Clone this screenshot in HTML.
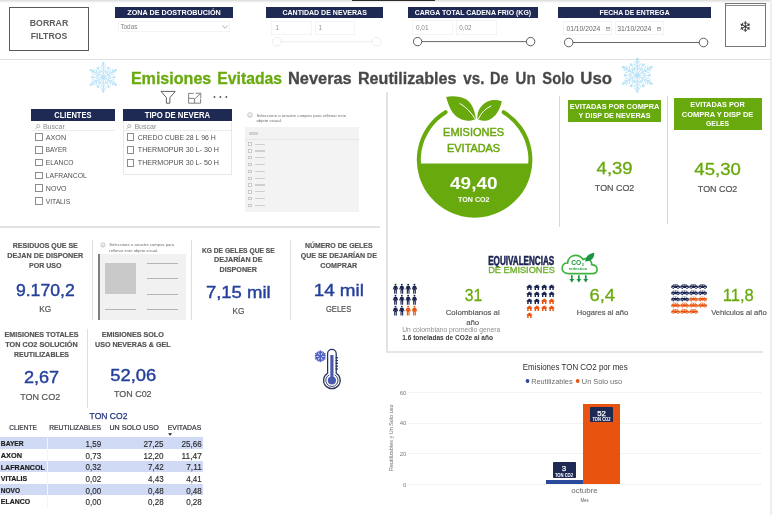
<!DOCTYPE html>
<html lang="es"><head><meta charset="utf-8"><title>Emisiones Evitadas</title>
<style>
html,body{margin:0;padding:0;background:#fff;}
body{width:772px;height:515px;position:relative;overflow:hidden;font-family:"Liberation Sans",sans-serif;}
#p{position:absolute;left:0;top:0;width:772px;height:515px;overflow:hidden;background:#fff;}
#p div{position:absolute;box-sizing:border-box;}
#p svg{position:absolute;overflow:visible;}
#tx text{font-family:"Liberation Sans",sans-serif;white-space:pre;}
</style></head><body><div id="p">
<div style="left:0.00px;top:0.00px;width:772.00px;height:1.00px;background:#e0e0e0;"></div>
<div style="left:0.00px;top:1.00px;width:772.00px;height:1.00px;background:#ededed;"></div>
<div style="left:0.00px;top:2.00px;width:772.00px;height:1.00px;background:#f8f8f8;"></div>
<div style="left:351.80px;top:0.00px;width:83.40px;height:1.10px;background:#2b2b2b;"></div>
<div style="left:769.80px;top:0.00px;width:2.20px;height:515.00px;background:#eeeeee;"></div>
<div style="left:0.00px;top:58.50px;width:769.50px;height:1.50px;background:#e0e0e0;"></div>
<div style="left:9.10px;top:6.50px;width:79.80px;height:44.50px;background:#fff;border:1.2px solid #5a5a5a;"></div>
<div style="left:114.70px;top:6.50px;width:118.70px;height:11.90px;background:#1f2a54;"></div>
<div style="left:266.40px;top:6.50px;width:116.50px;height:11.90px;background:#1f2a54;"></div>
<div style="left:407.90px;top:6.50px;width:130.10px;height:11.90px;background:#1f2a54;"></div>
<div style="left:558.40px;top:6.50px;width:152.40px;height:11.90px;background:#1f2a54;"></div>
<div style="left:118.40px;top:20.50px;width:111.20px;height:11.60px;background:#fff;border:1px solid #f4f4f4;"></div>
<svg style="left:221.6px;top:24.8px" width="6" height="4" viewBox="0 0 6 4"><path d="M0.4 0.5 L3 3.3 L5.6 0.5" fill="none" stroke="#8e8e8e" stroke-width="0.7"/></svg>
<div style="left:271.00px;top:20.50px;width:40.80px;height:14.00px;background:#fff;border:1px solid #f4f4f4;"></div>
<div style="left:314.70px;top:20.50px;width:40.80px;height:14.00px;background:#fff;border:1px solid #f4f4f4;"></div>
<svg style="left:268px;top:35px" width="116" height="14" viewBox="268 35 116 14"><line x1="281" y1="41.75" x2="372" y2="41.75" stroke="#ebebeb" stroke-width="1"/><circle cx="276.8" cy="41.75" r="4.3" fill="#fff" stroke="#eaeaea" stroke-width="0.9"/><circle cx="376.5" cy="41.75" r="4.3" fill="#fff" stroke="#eaeaea" stroke-width="0.9"/></svg>
<div style="left:412.20px;top:20.40px;width:41.30px;height:14.20px;background:#fff;border:1px solid #f4f4f4;"></div>
<div style="left:455.80px;top:20.40px;width:41.00px;height:14.20px;background:#fff;border:1px solid #f4f4f4;"></div>
<svg style="left:408px;top:35px" width="130" height="14" viewBox="408 35 130 14"><line x1="421" y1="41.6" x2="527" y2="41.6" stroke="#555" stroke-width="0.9"/><circle cx="417.6" cy="41.6" r="4.2" fill="#fff" stroke="#4a4a4a" stroke-width="0.9"/><circle cx="530.6" cy="41.6" r="4.2" fill="#fff" stroke="#4a4a4a" stroke-width="0.9"/></svg>
<div style="left:563.20px;top:21.00px;width:49.20px;height:14.20px;background:#fff;border:1px solid #f4f4f4;"></div>
<div style="left:614.50px;top:21.00px;width:49.00px;height:14.20px;background:#fff;border:1px solid #f4f4f4;"></div>
<svg style="left:606.3px;top:26.6px" width="4.2" height="4" viewBox="0 0 4.2 4"><rect x="0.4" y="0.6" width="3.4" height="3" fill="none" stroke="#9a9a9a" stroke-width="0.6"/><rect x="0.4" y="0.6" width="3.4" height="1" fill="#9a9a9a"/></svg>
<svg style="left:657.4px;top:26.6px" width="4.2" height="4" viewBox="0 0 4.2 4"><rect x="0.4" y="0.6" width="3.4" height="3" fill="none" stroke="#9a9a9a" stroke-width="0.6"/><rect x="0.4" y="0.6" width="3.4" height="1" fill="#9a9a9a"/></svg>
<svg style="left:560px;top:36px" width="150" height="14" viewBox="560 36 150 14"><line x1="572" y1="42.5" x2="700" y2="42.5" stroke="#555" stroke-width="0.9"/><circle cx="568.7" cy="42.5" r="4.3" fill="#fff" stroke="#4a4a4a" stroke-width="0.9"/><circle cx="703.5" cy="42.5" r="4.3" fill="#fff" stroke="#4a4a4a" stroke-width="0.9"/></svg>
<div style="left:725.00px;top:2.90px;width:40.90px;height:44.00px;background:#fff;border:0.9px solid #777;"></div>
<div style="left:725.50px;top:5.30px;width:40.00px;height:0.80px;background:#8a8a8a;"></div>
<svg style="left:87.90px;top:61.60px;opacity:0.6" width="30.60" height="30.60" viewBox="-15.3 -15.3 30.6 30.6"><g fill="none" stroke="#8fd1f1" stroke-width="0.95" stroke-linecap="round"><g transform="rotate(0)"><line x1="0" y1="0" x2="0" y2="-13.77"/><path d="M0 -4.59 L-2.45 -6.73 M0 -4.59 L2.45 -6.73 M0 -7.34 L-3.06 -10.10 M0 -7.34 L3.06 -10.10 M0 -10.10 L-2.29 -12.24 M0 -10.10 L2.29 -12.24"/><ellipse cx="0" cy="-13.77" rx="1.15" ry="1.99" fill="#8fd1f1" stroke="none"/></g><g transform="rotate(30)"><line x1="0" y1="0" x2="0" y2="-9.49" stroke-width="0.76"/><path d="M0 -5.51 L-1.53 -7.04 M0 -5.51 L1.53 -7.04" stroke-width="0.66"/><circle cx="0" cy="-10.71" r="1.30" fill="#8fd1f1" stroke="none"/></g><g transform="rotate(60)"><line x1="0" y1="0" x2="0" y2="-13.77"/><path d="M0 -4.59 L-2.45 -6.73 M0 -4.59 L2.45 -6.73 M0 -7.34 L-3.06 -10.10 M0 -7.34 L3.06 -10.10 M0 -10.10 L-2.29 -12.24 M0 -10.10 L2.29 -12.24"/><ellipse cx="0" cy="-13.77" rx="1.15" ry="1.99" fill="#8fd1f1" stroke="none"/></g><g transform="rotate(90)"><line x1="0" y1="0" x2="0" y2="-9.49" stroke-width="0.76"/><path d="M0 -5.51 L-1.53 -7.04 M0 -5.51 L1.53 -7.04" stroke-width="0.66"/><circle cx="0" cy="-10.71" r="1.30" fill="#8fd1f1" stroke="none"/></g><g transform="rotate(120)"><line x1="0" y1="0" x2="0" y2="-13.77"/><path d="M0 -4.59 L-2.45 -6.73 M0 -4.59 L2.45 -6.73 M0 -7.34 L-3.06 -10.10 M0 -7.34 L3.06 -10.10 M0 -10.10 L-2.29 -12.24 M0 -10.10 L2.29 -12.24"/><ellipse cx="0" cy="-13.77" rx="1.15" ry="1.99" fill="#8fd1f1" stroke="none"/></g><g transform="rotate(150)"><line x1="0" y1="0" x2="0" y2="-9.49" stroke-width="0.76"/><path d="M0 -5.51 L-1.53 -7.04 M0 -5.51 L1.53 -7.04" stroke-width="0.66"/><circle cx="0" cy="-10.71" r="1.30" fill="#8fd1f1" stroke="none"/></g><g transform="rotate(180)"><line x1="0" y1="0" x2="0" y2="-13.77"/><path d="M0 -4.59 L-2.45 -6.73 M0 -4.59 L2.45 -6.73 M0 -7.34 L-3.06 -10.10 M0 -7.34 L3.06 -10.10 M0 -10.10 L-2.29 -12.24 M0 -10.10 L2.29 -12.24"/><ellipse cx="0" cy="-13.77" rx="1.15" ry="1.99" fill="#8fd1f1" stroke="none"/></g><g transform="rotate(210)"><line x1="0" y1="0" x2="0" y2="-9.49" stroke-width="0.76"/><path d="M0 -5.51 L-1.53 -7.04 M0 -5.51 L1.53 -7.04" stroke-width="0.66"/><circle cx="0" cy="-10.71" r="1.30" fill="#8fd1f1" stroke="none"/></g><g transform="rotate(240)"><line x1="0" y1="0" x2="0" y2="-13.77"/><path d="M0 -4.59 L-2.45 -6.73 M0 -4.59 L2.45 -6.73 M0 -7.34 L-3.06 -10.10 M0 -7.34 L3.06 -10.10 M0 -10.10 L-2.29 -12.24 M0 -10.10 L2.29 -12.24"/><ellipse cx="0" cy="-13.77" rx="1.15" ry="1.99" fill="#8fd1f1" stroke="none"/></g><g transform="rotate(270)"><line x1="0" y1="0" x2="0" y2="-9.49" stroke-width="0.76"/><path d="M0 -5.51 L-1.53 -7.04 M0 -5.51 L1.53 -7.04" stroke-width="0.66"/><circle cx="0" cy="-10.71" r="1.30" fill="#8fd1f1" stroke="none"/></g><g transform="rotate(300)"><line x1="0" y1="0" x2="0" y2="-13.77"/><path d="M0 -4.59 L-2.45 -6.73 M0 -4.59 L2.45 -6.73 M0 -7.34 L-3.06 -10.10 M0 -7.34 L3.06 -10.10 M0 -10.10 L-2.29 -12.24 M0 -10.10 L2.29 -12.24"/><ellipse cx="0" cy="-13.77" rx="1.15" ry="1.99" fill="#8fd1f1" stroke="none"/></g><g transform="rotate(330)"><line x1="0" y1="0" x2="0" y2="-9.49" stroke-width="0.76"/><path d="M0 -5.51 L-1.53 -7.04 M0 -5.51 L1.53 -7.04" stroke-width="0.66"/><circle cx="0" cy="-10.71" r="1.30" fill="#8fd1f1" stroke="none"/></g></g><circle cx="0" cy="0" r="1.84" fill="#8fd1f1"/></svg>
<svg style="left:620.10px;top:58.00px;opacity:0.6" width="34.60" height="34.60" viewBox="-17.3 -17.3 34.6 34.6"><g fill="none" stroke="#8fd1f1" stroke-width="1.05" stroke-linecap="round"><g transform="rotate(0)"><line x1="0" y1="0" x2="0" y2="-15.57"/><path d="M0 -5.19 L-2.77 -7.61 M0 -5.19 L2.77 -7.61 M0 -8.30 L-3.46 -11.42 M0 -8.30 L3.46 -11.42 M0 -11.42 L-2.60 -13.84 M0 -11.42 L2.60 -13.84"/><ellipse cx="0" cy="-15.57" rx="1.30" ry="2.25" fill="#8fd1f1" stroke="none"/></g><g transform="rotate(30)"><line x1="0" y1="0" x2="0" y2="-10.73" stroke-width="0.84"/><path d="M0 -6.23 L-1.73 -7.96 M0 -6.23 L1.73 -7.96" stroke-width="0.73"/><circle cx="0" cy="-12.11" r="1.47" fill="#8fd1f1" stroke="none"/></g><g transform="rotate(60)"><line x1="0" y1="0" x2="0" y2="-15.57"/><path d="M0 -5.19 L-2.77 -7.61 M0 -5.19 L2.77 -7.61 M0 -8.30 L-3.46 -11.42 M0 -8.30 L3.46 -11.42 M0 -11.42 L-2.60 -13.84 M0 -11.42 L2.60 -13.84"/><ellipse cx="0" cy="-15.57" rx="1.30" ry="2.25" fill="#8fd1f1" stroke="none"/></g><g transform="rotate(90)"><line x1="0" y1="0" x2="0" y2="-10.73" stroke-width="0.84"/><path d="M0 -6.23 L-1.73 -7.96 M0 -6.23 L1.73 -7.96" stroke-width="0.73"/><circle cx="0" cy="-12.11" r="1.47" fill="#8fd1f1" stroke="none"/></g><g transform="rotate(120)"><line x1="0" y1="0" x2="0" y2="-15.57"/><path d="M0 -5.19 L-2.77 -7.61 M0 -5.19 L2.77 -7.61 M0 -8.30 L-3.46 -11.42 M0 -8.30 L3.46 -11.42 M0 -11.42 L-2.60 -13.84 M0 -11.42 L2.60 -13.84"/><ellipse cx="0" cy="-15.57" rx="1.30" ry="2.25" fill="#8fd1f1" stroke="none"/></g><g transform="rotate(150)"><line x1="0" y1="0" x2="0" y2="-10.73" stroke-width="0.84"/><path d="M0 -6.23 L-1.73 -7.96 M0 -6.23 L1.73 -7.96" stroke-width="0.73"/><circle cx="0" cy="-12.11" r="1.47" fill="#8fd1f1" stroke="none"/></g><g transform="rotate(180)"><line x1="0" y1="0" x2="0" y2="-15.57"/><path d="M0 -5.19 L-2.77 -7.61 M0 -5.19 L2.77 -7.61 M0 -8.30 L-3.46 -11.42 M0 -8.30 L3.46 -11.42 M0 -11.42 L-2.60 -13.84 M0 -11.42 L2.60 -13.84"/><ellipse cx="0" cy="-15.57" rx="1.30" ry="2.25" fill="#8fd1f1" stroke="none"/></g><g transform="rotate(210)"><line x1="0" y1="0" x2="0" y2="-10.73" stroke-width="0.84"/><path d="M0 -6.23 L-1.73 -7.96 M0 -6.23 L1.73 -7.96" stroke-width="0.73"/><circle cx="0" cy="-12.11" r="1.47" fill="#8fd1f1" stroke="none"/></g><g transform="rotate(240)"><line x1="0" y1="0" x2="0" y2="-15.57"/><path d="M0 -5.19 L-2.77 -7.61 M0 -5.19 L2.77 -7.61 M0 -8.30 L-3.46 -11.42 M0 -8.30 L3.46 -11.42 M0 -11.42 L-2.60 -13.84 M0 -11.42 L2.60 -13.84"/><ellipse cx="0" cy="-15.57" rx="1.30" ry="2.25" fill="#8fd1f1" stroke="none"/></g><g transform="rotate(270)"><line x1="0" y1="0" x2="0" y2="-10.73" stroke-width="0.84"/><path d="M0 -6.23 L-1.73 -7.96 M0 -6.23 L1.73 -7.96" stroke-width="0.73"/><circle cx="0" cy="-12.11" r="1.47" fill="#8fd1f1" stroke="none"/></g><g transform="rotate(300)"><line x1="0" y1="0" x2="0" y2="-15.57"/><path d="M0 -5.19 L-2.77 -7.61 M0 -5.19 L2.77 -7.61 M0 -8.30 L-3.46 -11.42 M0 -8.30 L3.46 -11.42 M0 -11.42 L-2.60 -13.84 M0 -11.42 L2.60 -13.84"/><ellipse cx="0" cy="-15.57" rx="1.30" ry="2.25" fill="#8fd1f1" stroke="none"/></g><g transform="rotate(330)"><line x1="0" y1="0" x2="0" y2="-10.73" stroke-width="0.84"/><path d="M0 -6.23 L-1.73 -7.96 M0 -6.23 L1.73 -7.96" stroke-width="0.73"/><circle cx="0" cy="-12.11" r="1.47" fill="#8fd1f1" stroke="none"/></g></g><circle cx="0" cy="0" r="2.08" fill="#8fd1f1"/></svg>
<svg style="left:158px;top:88px" width="74" height="18" viewBox="158 88 74 18" fill="none" stroke="#5a5a5a" stroke-width="0.95"><path d="M161 91.4 H175.2 L169.9 97.6 V103.2 H166.4 V97.6 Z" stroke-linejoin="round"/><path d="M193.5 93.4 H188.6 V103.2 H200.6 V98.6 M188.6 98.4 H194.4 V103.2 M195.6 93.2 H200.8 V98 M200.6 93.4 L195.2 98.6" stroke="#7a7a7a"/><g fill="#5a5a5a" stroke="none"><circle cx="214.5" cy="97" r="0.95"/><circle cx="220.4" cy="97" r="0.95"/><circle cx="226.3" cy="97" r="0.95"/></g></svg>
<div style="left:30.60px;top:108.90px;width:84.20px;height:12.40px;background:#1f2a54;"></div>
<svg style="left:34.8px;top:123.8px" width="5.4" height="5.6" viewBox="0 0 5.4 5.6"><circle cx="3.3" cy="2.1" r="1.6" fill="none" stroke="#8c8c8c" stroke-width="0.6"/><line x1="2.2" y1="3.3" x2="0.4" y2="5.2" stroke="#8c8c8c" stroke-width="0.6"/></svg>
<div style="left:31.00px;top:129.60px;width:83.50px;height:0.80px;background:#ececec;"></div>
<div style="left:35.20px;top:133.05px;width:7.70px;height:7.70px;background:#fff;border:0.8px solid #8c8c8c;"></div>
<div style="left:35.20px;top:145.91px;width:7.70px;height:7.70px;background:#fff;border:0.8px solid #8c8c8c;"></div>
<div style="left:35.20px;top:158.77px;width:7.70px;height:7.70px;background:#fff;border:0.8px solid #8c8c8c;"></div>
<div style="left:35.20px;top:171.63px;width:7.70px;height:7.70px;background:#fff;border:0.8px solid #8c8c8c;"></div>
<div style="left:35.20px;top:184.49px;width:7.70px;height:7.70px;background:#fff;border:0.8px solid #8c8c8c;"></div>
<div style="left:35.20px;top:197.35px;width:7.70px;height:7.70px;background:#fff;border:0.8px solid #8c8c8c;"></div>
<div style="left:122.80px;top:108.90px;width:109.20px;height:66.60px;background:#fff;border:1px solid #e8e8e8;"></div>
<div style="left:122.80px;top:108.90px;width:109.20px;height:12.40px;background:#1f2a54;"></div>
<svg style="left:126.1px;top:123.8px" width="5.4" height="5.6" viewBox="0 0 5.4 5.6"><circle cx="3.3" cy="2.1" r="1.6" fill="none" stroke="#8c8c8c" stroke-width="0.6"/><line x1="2.2" y1="3.3" x2="0.4" y2="5.2" stroke="#8c8c8c" stroke-width="0.6"/></svg>
<div style="left:124.00px;top:129.60px;width:107.00px;height:0.80px;background:#ececec;"></div>
<div style="left:126.60px;top:132.95px;width:7.90px;height:7.90px;background:#fff;border:0.8px solid #8c8c8c;"></div>
<div style="left:126.60px;top:145.81px;width:7.90px;height:7.90px;background:#fff;border:0.8px solid #8c8c8c;"></div>
<div style="left:126.60px;top:158.67px;width:7.90px;height:7.90px;background:#fff;border:0.8px solid #8c8c8c;"></div>
<svg style="left:247px;top:112px" width="6" height="6" viewBox="0 0 6 6"><circle cx="3" cy="3" r="2.3" fill="none" stroke="#8a8a8a" stroke-width="0.5"/><line x1="3" y1="2.6" x2="3" y2="4.4" stroke="#8a8a8a" stroke-width="0.5"/></svg>
<div style="left:245.00px;top:126.70px;width:113.70px;height:85.70px;background:#f3f3f3;"></div>
<div style="left:248.50px;top:132.20px;width:9.50px;height:3.20px;background:#d2d2d2;"></div>
<div style="left:245.00px;top:138.80px;width:113.70px;height:0.60px;background:#e6e6e6;"></div>
<div style="left:248.30px;top:142.40px;width:3.40px;height:3.40px;background:#fafafa;border:0.5px solid #c8c8c8;"></div>
<div style="left:255.00px;top:143.50px;width:9.50px;height:1.20px;background:#cfcfcf;"></div>
<div style="left:248.30px;top:149.23px;width:3.40px;height:3.40px;background:#fafafa;border:0.5px solid #c8c8c8;"></div>
<div style="left:255.00px;top:150.33px;width:9.50px;height:1.20px;background:#cfcfcf;"></div>
<div style="left:248.30px;top:156.06px;width:3.40px;height:3.40px;background:#fafafa;border:0.5px solid #c8c8c8;"></div>
<div style="left:255.00px;top:157.16px;width:9.50px;height:1.20px;background:#cfcfcf;"></div>
<div style="left:248.30px;top:162.89px;width:3.40px;height:3.40px;background:#fafafa;border:0.5px solid #c8c8c8;"></div>
<div style="left:255.00px;top:163.99px;width:9.50px;height:1.20px;background:#cfcfcf;"></div>
<div style="left:248.30px;top:169.72px;width:3.40px;height:3.40px;background:#fafafa;border:0.5px solid #c8c8c8;"></div>
<div style="left:255.00px;top:170.82px;width:9.50px;height:1.20px;background:#cfcfcf;"></div>
<div style="left:248.30px;top:176.55px;width:3.40px;height:3.40px;background:#fafafa;border:0.5px solid #c8c8c8;"></div>
<div style="left:255.00px;top:177.65px;width:9.50px;height:1.20px;background:#cfcfcf;"></div>
<div style="left:248.30px;top:183.38px;width:3.40px;height:3.40px;background:#fafafa;border:0.5px solid #c8c8c8;"></div>
<div style="left:255.00px;top:184.48px;width:9.50px;height:1.20px;background:#cfcfcf;"></div>
<div style="left:248.30px;top:190.21px;width:3.40px;height:3.40px;background:#fafafa;border:0.5px solid #c8c8c8;"></div>
<div style="left:255.00px;top:191.31px;width:9.50px;height:1.20px;background:#cfcfcf;"></div>
<div style="left:248.30px;top:197.04px;width:3.40px;height:3.40px;background:#fafafa;border:0.5px solid #c8c8c8;"></div>
<div style="left:255.00px;top:198.14px;width:9.50px;height:1.20px;background:#cfcfcf;"></div>
<div style="left:248.30px;top:203.87px;width:3.40px;height:3.40px;background:#fafafa;border:0.5px solid #c8c8c8;"></div>
<div style="left:255.00px;top:204.97px;width:9.50px;height:1.20px;background:#cfcfcf;"></div>
<div style="left:385.90px;top:92.30px;width:1.90px;height:260.60px;background:#e3e3e3;"></div>
<div style="left:385.90px;top:351.30px;width:376.80px;height:1.80px;background:#e6e6e6;"></div>
<div style="left:0.00px;top:226.30px;width:380.30px;height:1.60px;background:#e2e2e2;"></div>
<div style="left:558.60px;top:95.80px;width:1.40px;height:131.20px;background:#d8d8d8;"></div>
<div style="left:666.90px;top:95.50px;width:1.40px;height:128.00px;background:#d8d8d8;"></div>
<svg style="left:410px;top:92px" width="128" height="130" viewBox="410 92 128 130"><path d="M 445.6 112.2 A 55.8 55.8 0 1 0 503.6 112.2" fill="none" stroke="#68aa0d" stroke-width="4" stroke-linecap="round"/><path d="M 418.2 163.6 H 529.4 A 55.7 55.7 0 0 1 418.2 163.6 Z" fill="#68aa0d"/><path d="M446.1 97 C452 95.4 461 96.4 466.1 99.3 C471.2 102.6 474.6 109 475.9 119 C473 120.6 469 121.1 466.1 120.6 C460 119.8 455 116 452.1 111.8 C449.5 107.5 447.5 102 446.1 97 Z" fill="#68aa0d"/><path d="M501.8 101.2 C497 99.7 492 99.9 488.9 100.9 C484 102.5 479.5 107 478 112.8 C477.4 115 477.3 117.5 477.5 119 C480 120.6 484 121.1 486.8 120.6 C491 119.8 495.5 115.5 497 113 C499.5 109.5 501 105 501.8 101.2 Z" fill="#68aa0d"/><path d="M459.9 103.5 C466 107 471.5 112.5 474.9 118.6" fill="none" stroke="#fff" stroke-width="1.0" stroke-linecap="round"/><path d="M491 106 C485.5 108.5 480.8 113 478.6 118.6" fill="none" stroke="#fff" stroke-width="1.0" stroke-linecap="round"/></svg>
<div style="left:568.00px;top:100.00px;width:93.30px;height:22.00px;background:#68aa0d;"></div>
<div style="left:673.80px;top:98.20px;width:88.00px;height:31.40px;background:#68aa0d;"></div>
<div style="left:91.90px;top:239.80px;width:1.40px;height:79.80px;background:#dedede;"></div>
<div style="left:191.00px;top:239.80px;width:1.40px;height:79.80px;background:#dedede;"></div>
<div style="left:289.80px;top:239.80px;width:1.40px;height:79.80px;background:#dedede;"></div>
<svg style="left:100.2px;top:242.2px" width="6" height="6" viewBox="0 0 6 6"><circle cx="3" cy="3" r="2.1" fill="none" stroke="#8a8a8a" stroke-width="0.5"/><line x1="3" y1="2.6" x2="3" y2="4.2" stroke="#8a8a8a" stroke-width="0.5"/></svg>
<div style="left:98.00px;top:254.00px;width:88.00px;height:65.60px;background:#f1f1f1;"></div>
<div style="left:98.00px;top:254.10px;width:1.80px;height:65.50px;background:#808080;"></div>
<div style="left:105.40px;top:263.30px;width:31.10px;height:30.90px;background:#c9c9c9;"></div>
<div style="left:147.00px;top:263.00px;width:30.50px;height:0.70px;background:#b4b4b4;"></div>
<div style="left:147.00px;top:278.30px;width:30.50px;height:0.70px;background:#b4b4b4;"></div>
<div style="left:147.00px;top:293.90px;width:30.50px;height:0.70px;background:#b4b4b4;"></div>
<div style="left:147.00px;top:308.90px;width:30.50px;height:0.70px;background:#b4b4b4;"></div>
<div style="left:105.40px;top:308.90px;width:31.10px;height:0.70px;background:#b4b4b4;"></div>
<div style="left:86.60px;top:328.80px;width:1.40px;height:79.20px;background:#dedede;"></div>
<svg style="left:310px;top:345px" width="36" height="48" viewBox="310 345 36 48"><path d="M327.6 353.8 A4.3 4.3 0 0 1 336.2 353.8 V373.3 A8.3 8.3 0 1 1 327.6 373.3 Z" fill="#fff" stroke="#27305e" stroke-width="1.25"/><path d="M329.2 374.9 A6.1 6.1 0 1 0 334.6 374.9" fill="none" stroke="#27305e" stroke-width="0.9"/><rect x="330.3" y="355" width="3.2" height="24" fill="#4a59b0"/><circle cx="331.9" cy="380.5" r="4.1" fill="#4a59b0"/><g stroke="#27305e" stroke-width="1.2"><line x1="335.6" y1="357.7" x2="338" y2="357.7"/><line x1="335.6" y1="360.5" x2="338" y2="360.5"/><line x1="335.6" y1="363.4" x2="338" y2="363.4"/><line x1="335.6" y1="366.2" x2="338" y2="366.2"/><line x1="335.6" y1="369" x2="338" y2="369"/></g></svg>
<svg style="left:313.50px;top:349.50px" width="12.60" height="12.60" viewBox="-6.3 -6.3 12.6 12.6"><g fill="none" stroke="#5061c4" stroke-width="1.45" stroke-linecap="round"><g transform="rotate(0)"><line x1="0" y1="0" x2="0" y2="-5.3"/><path d="M0 -2.65 L-1.70 -4.50 M0 -2.65 L1.70 -4.50"/></g><g transform="rotate(60)"><line x1="0" y1="0" x2="0" y2="-5.3"/><path d="M0 -2.65 L-1.70 -4.50 M0 -2.65 L1.70 -4.50"/></g><g transform="rotate(120)"><line x1="0" y1="0" x2="0" y2="-5.3"/><path d="M0 -2.65 L-1.70 -4.50 M0 -2.65 L1.70 -4.50"/></g><g transform="rotate(180)"><line x1="0" y1="0" x2="0" y2="-5.3"/><path d="M0 -2.65 L-1.70 -4.50 M0 -2.65 L1.70 -4.50"/></g><g transform="rotate(240)"><line x1="0" y1="0" x2="0" y2="-5.3"/><path d="M0 -2.65 L-1.70 -4.50 M0 -2.65 L1.70 -4.50"/></g><g transform="rotate(300)"><line x1="0" y1="0" x2="0" y2="-5.3"/><path d="M0 -2.65 L-1.70 -4.50 M0 -2.65 L1.70 -4.50"/></g></g></svg>
<svg style="left:167.9px;top:433px" width="4.2" height="3" viewBox="0 0 4.2 3"><path d="M0.1 0.3 H4.1 L2.1 2.8 Z" fill="#222"/></svg>
<div style="left:0.00px;top:437.35px;width:203.30px;height:11.62px;background:#d1daf5;"></div>
<div style="left:0.00px;top:460.59px;width:203.30px;height:11.62px;background:#d1daf5;"></div>
<div style="left:0.00px;top:483.83px;width:203.30px;height:11.62px;background:#d1daf5;"></div>
<div style="left:46.50px;top:437.60px;width:0.80px;height:69.80px;background:#f4f4f4;"></div>
<svg style="left:558px;top:250px" width="44" height="36" viewBox="558 250 44 36"><path d="M568.2 273.6 C563.6 273.6 561.6 270.2 562.2 267.3 C562.8 264.4 565.2 262.9 567.6 263.1 C567.8 258.7 571 255.6 575.3 255.4 C578.8 255.3 581.6 257 583 259.7 C584.6 258.6 587.2 258.5 589 259.6 C591 260.8 591.9 262.8 591.6 264.6 C595 264.9 597.2 267 597.1 269.6 C597 272 595 273.6 592.2 273.6 Z" fill="#fff" stroke="#3fb341" stroke-width="1.6"/><path d="M585.3 261.4 C585 257.2 588.6 253.6 594.2 252.8 C594.6 257.6 591.6 261.2 585.3 261.4 Z" fill="#1d9440"/><g fill="#1d9440"><path d="M571.0 275.2 h1.7 v3.8 h1.6 l-2.45 3.4 l-2.45 -3.4 h1.6 z"/><path d="M578.0 275.2 h1.7 v3.8 h1.6 l-2.45 3.4 l-2.45 -3.4 h1.6 z"/><path d="M584.9 275.2 h1.7 v3.8 h1.6 l-2.45 3.4 l-2.45 -3.4 h1.6 z"/></g></svg>
<svg style="left:390px;top:280px" width="32" height="40" viewBox="390 280 32 40"><g transform="translate(395.50 288.90)" fill="#1b2450"><circle cx="0" cy="-4.1" r="0.95"/><path d="M-1.5 -2.9 H1.5 L2.7 0.4 L1.9 0.7 L1.35 -0.8 V4.9 H0.25 V1.4 H-0.25 V4.9 H-1.35 V-0.8 L-1.9 0.7 L-2.7 0.4 Z"/></g><g transform="translate(401.83 288.90)" fill="#1b2450"><circle cx="0" cy="-4.1" r="0.95"/><path d="M-1.5 -2.9 H1.5 L2.7 0.4 L1.9 0.7 L1.35 -0.8 V4.9 H0.25 V1.4 H-0.25 V4.9 H-1.35 V-0.8 L-1.9 0.7 L-2.7 0.4 Z"/></g><g transform="translate(408.16 288.90)" fill="#1b2450"><circle cx="0" cy="-4.1" r="0.95"/><path d="M-1.5 -2.9 H1.5 L2.7 0.4 L1.9 0.7 L1.35 -0.8 V4.9 H0.25 V1.4 H-0.25 V4.9 H-1.35 V-0.8 L-1.9 0.7 L-2.7 0.4 Z"/></g><g transform="translate(414.49 288.90)" fill="#1b2450"><circle cx="0" cy="-4.1" r="0.95"/><path d="M-1.5 -2.9 H1.5 L2.7 0.4 L1.9 0.7 L1.35 -0.8 V4.9 H0.25 V1.4 H-0.25 V4.9 H-1.35 V-0.8 L-1.9 0.7 L-2.7 0.4 Z"/></g><g transform="translate(395.50 299.80)" fill="#1b2450"><circle cx="0" cy="-4.1" r="0.95"/><path d="M-1.5 -2.9 H1.5 L2.7 0.4 L1.9 0.7 L1.35 -0.8 V4.9 H0.25 V1.4 H-0.25 V4.9 H-1.35 V-0.8 L-1.9 0.7 L-2.7 0.4 Z"/></g><g transform="translate(401.83 299.80)" fill="#1b2450"><circle cx="0" cy="-4.1" r="0.95"/><path d="M-1.5 -2.9 H1.5 L2.7 0.4 L1.9 0.7 L1.35 -0.8 V4.9 H0.25 V1.4 H-0.25 V4.9 H-1.35 V-0.8 L-1.9 0.7 L-2.7 0.4 Z"/></g><g transform="translate(408.16 299.80)" fill="#1b2450"><circle cx="0" cy="-4.1" r="0.95"/><path d="M-1.5 -2.9 H1.5 L2.7 0.4 L1.9 0.7 L1.35 -0.8 V4.9 H0.25 V1.4 H-0.25 V4.9 H-1.35 V-0.8 L-1.9 0.7 L-2.7 0.4 Z"/></g><g transform="translate(414.49 299.80)" fill="#1b2450"><circle cx="0" cy="-4.1" r="0.95"/><path d="M-1.5 -2.9 H1.5 L2.7 0.4 L1.9 0.7 L1.35 -0.8 V4.9 H0.25 V1.4 H-0.25 V4.9 H-1.35 V-0.8 L-1.9 0.7 L-2.7 0.4 Z"/></g><g transform="translate(395.50 310.70)" fill="#1b2450"><circle cx="0" cy="-4.1" r="0.95"/><path d="M-1.5 -2.9 H1.5 L2.7 0.4 L1.9 0.7 L1.35 -0.8 V4.9 H0.25 V1.4 H-0.25 V4.9 H-1.35 V-0.8 L-1.9 0.7 L-2.7 0.4 Z"/></g><g transform="translate(401.83 310.70)" fill="#1b2450"><circle cx="0" cy="-4.1" r="0.95"/><path d="M-1.5 -2.9 H1.5 L2.7 0.4 L1.9 0.7 L1.35 -0.8 V4.9 H0.25 V1.4 H-0.25 V4.9 H-1.35 V-0.8 L-1.9 0.7 L-2.7 0.4 Z"/></g><g transform="translate(408.16 310.70)" fill="#e8540f"><circle cx="0" cy="-4.1" r="0.95"/><path d="M-1.5 -2.9 H1.5 L2.7 0.4 L1.9 0.7 L1.35 -0.8 V4.9 H0.25 V1.4 H-0.25 V4.9 H-1.35 V-0.8 L-1.9 0.7 L-2.7 0.4 Z"/></g><g transform="translate(414.49 310.70)" fill="#e8540f"><circle cx="0" cy="-4.1" r="0.95"/><path d="M-1.5 -2.9 H1.5 L2.7 0.4 L1.9 0.7 L1.35 -0.8 V4.9 H0.25 V1.4 H-0.25 V4.9 H-1.35 V-0.8 L-1.9 0.7 L-2.7 0.4 Z"/></g></svg>
<svg style="left:524px;top:282px" width="34" height="40" viewBox="524 282 34 40"><g transform="translate(529.40 287.30)" fill="#1b2450"><path d="M0 -2.9 L3.1 -0.3 L2.6 0.25 L2.2 -0.05 V2.7 H0.75 V0.8 H-0.75 V2.7 H-2.2 V-0.05 L-2.6 0.25 L-3.1 -0.3 Z M1.2 -2.6 H2 V-1.7 L1.2 -2.3 Z"/></g><g transform="translate(536.80 287.30)" fill="#1b2450"><path d="M0 -2.9 L3.1 -0.3 L2.6 0.25 L2.2 -0.05 V2.7 H0.75 V0.8 H-0.75 V2.7 H-2.2 V-0.05 L-2.6 0.25 L-3.1 -0.3 Z M1.2 -2.6 H2 V-1.7 L1.2 -2.3 Z"/></g><g transform="translate(544.20 287.30)" fill="#1b2450"><path d="M0 -2.9 L3.1 -0.3 L2.6 0.25 L2.2 -0.05 V2.7 H0.75 V0.8 H-0.75 V2.7 H-2.2 V-0.05 L-2.6 0.25 L-3.1 -0.3 Z M1.2 -2.6 H2 V-1.7 L1.2 -2.3 Z"/></g><g transform="translate(551.60 287.30)" fill="#1b2450"><path d="M0 -2.9 L3.1 -0.3 L2.6 0.25 L2.2 -0.05 V2.7 H0.75 V0.8 H-0.75 V2.7 H-2.2 V-0.05 L-2.6 0.25 L-3.1 -0.3 Z M1.2 -2.6 H2 V-1.7 L1.2 -2.3 Z"/></g><g transform="translate(529.40 294.30)" fill="#1b2450"><path d="M0 -2.9 L3.1 -0.3 L2.6 0.25 L2.2 -0.05 V2.7 H0.75 V0.8 H-0.75 V2.7 H-2.2 V-0.05 L-2.6 0.25 L-3.1 -0.3 Z M1.2 -2.6 H2 V-1.7 L1.2 -2.3 Z"/></g><g transform="translate(536.80 294.30)" fill="#1b2450"><path d="M0 -2.9 L3.1 -0.3 L2.6 0.25 L2.2 -0.05 V2.7 H0.75 V0.8 H-0.75 V2.7 H-2.2 V-0.05 L-2.6 0.25 L-3.1 -0.3 Z M1.2 -2.6 H2 V-1.7 L1.2 -2.3 Z"/></g><g transform="translate(544.20 294.30)" fill="#1b2450"><path d="M0 -2.9 L3.1 -0.3 L2.6 0.25 L2.2 -0.05 V2.7 H0.75 V0.8 H-0.75 V2.7 H-2.2 V-0.05 L-2.6 0.25 L-3.1 -0.3 Z M1.2 -2.6 H2 V-1.7 L1.2 -2.3 Z"/></g><g transform="translate(551.60 294.30)" fill="#1b2450"><path d="M0 -2.9 L3.1 -0.3 L2.6 0.25 L2.2 -0.05 V2.7 H0.75 V0.8 H-0.75 V2.7 H-2.2 V-0.05 L-2.6 0.25 L-3.1 -0.3 Z M1.2 -2.6 H2 V-1.7 L1.2 -2.3 Z"/></g><g transform="translate(529.40 301.30)" fill="#1b2450"><path d="M0 -2.9 L3.1 -0.3 L2.6 0.25 L2.2 -0.05 V2.7 H0.75 V0.8 H-0.75 V2.7 H-2.2 V-0.05 L-2.6 0.25 L-3.1 -0.3 Z M1.2 -2.6 H2 V-1.7 L1.2 -2.3 Z"/></g><g transform="translate(536.80 301.30)" fill="#1b2450"><path d="M0 -2.9 L3.1 -0.3 L2.6 0.25 L2.2 -0.05 V2.7 H0.75 V0.8 H-0.75 V2.7 H-2.2 V-0.05 L-2.6 0.25 L-3.1 -0.3 Z M1.2 -2.6 H2 V-1.7 L1.2 -2.3 Z"/></g><g transform="translate(544.20 301.30)" fill="#e8540f"><path d="M0 -2.9 L3.1 -0.3 L2.6 0.25 L2.2 -0.05 V2.7 H0.75 V0.8 H-0.75 V2.7 H-2.2 V-0.05 L-2.6 0.25 L-3.1 -0.3 Z M1.2 -2.6 H2 V-1.7 L1.2 -2.3 Z"/></g><g transform="translate(551.60 301.30)" fill="#e8540f"><path d="M0 -2.9 L3.1 -0.3 L2.6 0.25 L2.2 -0.05 V2.7 H0.75 V0.8 H-0.75 V2.7 H-2.2 V-0.05 L-2.6 0.25 L-3.1 -0.3 Z M1.2 -2.6 H2 V-1.7 L1.2 -2.3 Z"/></g><g transform="translate(529.40 308.30)" fill="#e8540f"><path d="M0 -2.9 L3.1 -0.3 L2.6 0.25 L2.2 -0.05 V2.7 H0.75 V0.8 H-0.75 V2.7 H-2.2 V-0.05 L-2.6 0.25 L-3.1 -0.3 Z M1.2 -2.6 H2 V-1.7 L1.2 -2.3 Z"/></g><g transform="translate(536.80 308.30)" fill="#e8540f"><path d="M0 -2.9 L3.1 -0.3 L2.6 0.25 L2.2 -0.05 V2.7 H0.75 V0.8 H-0.75 V2.7 H-2.2 V-0.05 L-2.6 0.25 L-3.1 -0.3 Z M1.2 -2.6 H2 V-1.7 L1.2 -2.3 Z"/></g><g transform="translate(544.20 308.30)" fill="#e8540f"><path d="M0 -2.9 L3.1 -0.3 L2.6 0.25 L2.2 -0.05 V2.7 H0.75 V0.8 H-0.75 V2.7 H-2.2 V-0.05 L-2.6 0.25 L-3.1 -0.3 Z M1.2 -2.6 H2 V-1.7 L1.2 -2.3 Z"/></g><g transform="translate(551.60 308.30)" fill="#e8540f"><path d="M0 -2.9 L3.1 -0.3 L2.6 0.25 L2.2 -0.05 V2.7 H0.75 V0.8 H-0.75 V2.7 H-2.2 V-0.05 L-2.6 0.25 L-3.1 -0.3 Z M1.2 -2.6 H2 V-1.7 L1.2 -2.3 Z"/></g><g transform="translate(529.40 315.30)" fill="#e8540f"><path d="M0 -2.9 L3.1 -0.3 L2.6 0.25 L2.2 -0.05 V2.7 H0.75 V0.8 H-0.75 V2.7 H-2.2 V-0.05 L-2.6 0.25 L-3.1 -0.3 Z M1.2 -2.6 H2 V-1.7 L1.2 -2.3 Z"/></g></svg>
<svg style="left:668px;top:282px" width="42" height="36" viewBox="668 282 42 36"><g transform="translate(675.60 286.60)" fill="#1b2450"><path d="M-4.3 0 C-4.3 -0.7 -3.8 -1 -3.2 -1.05 L-2.3 -2.4 H1.7 L2.9 -1.05 C3.7 -1 4.3 -0.6 4.3 0.2 V1.5 H3.4 A1 1 0 0 0 1.4 1.5 H-1.4 A1 1 0 0 0 -3.4 1.5 H-4.3 Z M-1.9 -1.95 L-2.5 -1.0 H-0.4 V-1.95 Z M0.1 -1.95 V-1.0 H2.2 L1.4 -1.95 Z"/><circle cx="-2.4" cy="1.6" r="0.8"/><circle cx="2.4" cy="1.6" r="0.8"/></g><g transform="translate(684.60 286.60)" fill="#1b2450"><path d="M-4.3 0 C-4.3 -0.7 -3.8 -1 -3.2 -1.05 L-2.3 -2.4 H1.7 L2.9 -1.05 C3.7 -1 4.3 -0.6 4.3 0.2 V1.5 H3.4 A1 1 0 0 0 1.4 1.5 H-1.4 A1 1 0 0 0 -3.4 1.5 H-4.3 Z M-1.9 -1.95 L-2.5 -1.0 H-0.4 V-1.95 Z M0.1 -1.95 V-1.0 H2.2 L1.4 -1.95 Z"/><circle cx="-2.4" cy="1.6" r="0.8"/><circle cx="2.4" cy="1.6" r="0.8"/></g><g transform="translate(693.60 286.60)" fill="#1b2450"><path d="M-4.3 0 C-4.3 -0.7 -3.8 -1 -3.2 -1.05 L-2.3 -2.4 H1.7 L2.9 -1.05 C3.7 -1 4.3 -0.6 4.3 0.2 V1.5 H3.4 A1 1 0 0 0 1.4 1.5 H-1.4 A1 1 0 0 0 -3.4 1.5 H-4.3 Z M-1.9 -1.95 L-2.5 -1.0 H-0.4 V-1.95 Z M0.1 -1.95 V-1.0 H2.2 L1.4 -1.95 Z"/><circle cx="-2.4" cy="1.6" r="0.8"/><circle cx="2.4" cy="1.6" r="0.8"/></g><g transform="translate(702.60 286.60)" fill="#1b2450"><path d="M-4.3 0 C-4.3 -0.7 -3.8 -1 -3.2 -1.05 L-2.3 -2.4 H1.7 L2.9 -1.05 C3.7 -1 4.3 -0.6 4.3 0.2 V1.5 H3.4 A1 1 0 0 0 1.4 1.5 H-1.4 A1 1 0 0 0 -3.4 1.5 H-4.3 Z M-1.9 -1.95 L-2.5 -1.0 H-0.4 V-1.95 Z M0.1 -1.95 V-1.0 H2.2 L1.4 -1.95 Z"/><circle cx="-2.4" cy="1.6" r="0.8"/><circle cx="2.4" cy="1.6" r="0.8"/></g><g transform="translate(675.60 292.82)" fill="#1b2450"><path d="M-4.3 0 C-4.3 -0.7 -3.8 -1 -3.2 -1.05 L-2.3 -2.4 H1.7 L2.9 -1.05 C3.7 -1 4.3 -0.6 4.3 0.2 V1.5 H3.4 A1 1 0 0 0 1.4 1.5 H-1.4 A1 1 0 0 0 -3.4 1.5 H-4.3 Z M-1.9 -1.95 L-2.5 -1.0 H-0.4 V-1.95 Z M0.1 -1.95 V-1.0 H2.2 L1.4 -1.95 Z"/><circle cx="-2.4" cy="1.6" r="0.8"/><circle cx="2.4" cy="1.6" r="0.8"/></g><g transform="translate(684.60 292.82)" fill="#1b2450"><path d="M-4.3 0 C-4.3 -0.7 -3.8 -1 -3.2 -1.05 L-2.3 -2.4 H1.7 L2.9 -1.05 C3.7 -1 4.3 -0.6 4.3 0.2 V1.5 H3.4 A1 1 0 0 0 1.4 1.5 H-1.4 A1 1 0 0 0 -3.4 1.5 H-4.3 Z M-1.9 -1.95 L-2.5 -1.0 H-0.4 V-1.95 Z M0.1 -1.95 V-1.0 H2.2 L1.4 -1.95 Z"/><circle cx="-2.4" cy="1.6" r="0.8"/><circle cx="2.4" cy="1.6" r="0.8"/></g><g transform="translate(693.60 292.82)" fill="#1b2450"><path d="M-4.3 0 C-4.3 -0.7 -3.8 -1 -3.2 -1.05 L-2.3 -2.4 H1.7 L2.9 -1.05 C3.7 -1 4.3 -0.6 4.3 0.2 V1.5 H3.4 A1 1 0 0 0 1.4 1.5 H-1.4 A1 1 0 0 0 -3.4 1.5 H-4.3 Z M-1.9 -1.95 L-2.5 -1.0 H-0.4 V-1.95 Z M0.1 -1.95 V-1.0 H2.2 L1.4 -1.95 Z"/><circle cx="-2.4" cy="1.6" r="0.8"/><circle cx="2.4" cy="1.6" r="0.8"/></g><g transform="translate(702.60 292.82)" fill="#1b2450"><path d="M-4.3 0 C-4.3 -0.7 -3.8 -1 -3.2 -1.05 L-2.3 -2.4 H1.7 L2.9 -1.05 C3.7 -1 4.3 -0.6 4.3 0.2 V1.5 H3.4 A1 1 0 0 0 1.4 1.5 H-1.4 A1 1 0 0 0 -3.4 1.5 H-4.3 Z M-1.9 -1.95 L-2.5 -1.0 H-0.4 V-1.95 Z M0.1 -1.95 V-1.0 H2.2 L1.4 -1.95 Z"/><circle cx="-2.4" cy="1.6" r="0.8"/><circle cx="2.4" cy="1.6" r="0.8"/></g><g transform="translate(675.60 299.04)" fill="#1b2450"><path d="M-4.3 0 C-4.3 -0.7 -3.8 -1 -3.2 -1.05 L-2.3 -2.4 H1.7 L2.9 -1.05 C3.7 -1 4.3 -0.6 4.3 0.2 V1.5 H3.4 A1 1 0 0 0 1.4 1.5 H-1.4 A1 1 0 0 0 -3.4 1.5 H-4.3 Z M-1.9 -1.95 L-2.5 -1.0 H-0.4 V-1.95 Z M0.1 -1.95 V-1.0 H2.2 L1.4 -1.95 Z"/><circle cx="-2.4" cy="1.6" r="0.8"/><circle cx="2.4" cy="1.6" r="0.8"/></g><g transform="translate(684.60 299.04)" fill="#1b2450"><path d="M-4.3 0 C-4.3 -0.7 -3.8 -1 -3.2 -1.05 L-2.3 -2.4 H1.7 L2.9 -1.05 C3.7 -1 4.3 -0.6 4.3 0.2 V1.5 H3.4 A1 1 0 0 0 1.4 1.5 H-1.4 A1 1 0 0 0 -3.4 1.5 H-4.3 Z M-1.9 -1.95 L-2.5 -1.0 H-0.4 V-1.95 Z M0.1 -1.95 V-1.0 H2.2 L1.4 -1.95 Z"/><circle cx="-2.4" cy="1.6" r="0.8"/><circle cx="2.4" cy="1.6" r="0.8"/></g><g transform="translate(693.60 299.04)" fill="#e8540f"><path d="M-4.3 0 C-4.3 -0.7 -3.8 -1 -3.2 -1.05 L-2.3 -2.4 H1.7 L2.9 -1.05 C3.7 -1 4.3 -0.6 4.3 0.2 V1.5 H3.4 A1 1 0 0 0 1.4 1.5 H-1.4 A1 1 0 0 0 -3.4 1.5 H-4.3 Z M-1.9 -1.95 L-2.5 -1.0 H-0.4 V-1.95 Z M0.1 -1.95 V-1.0 H2.2 L1.4 -1.95 Z"/><circle cx="-2.4" cy="1.6" r="0.8"/><circle cx="2.4" cy="1.6" r="0.8"/></g><g transform="translate(702.60 299.04)" fill="#e8540f"><path d="M-4.3 0 C-4.3 -0.7 -3.8 -1 -3.2 -1.05 L-2.3 -2.4 H1.7 L2.9 -1.05 C3.7 -1 4.3 -0.6 4.3 0.2 V1.5 H3.4 A1 1 0 0 0 1.4 1.5 H-1.4 A1 1 0 0 0 -3.4 1.5 H-4.3 Z M-1.9 -1.95 L-2.5 -1.0 H-0.4 V-1.95 Z M0.1 -1.95 V-1.0 H2.2 L1.4 -1.95 Z"/><circle cx="-2.4" cy="1.6" r="0.8"/><circle cx="2.4" cy="1.6" r="0.8"/></g><g transform="translate(675.60 305.26)" fill="#e8540f"><path d="M-4.3 0 C-4.3 -0.7 -3.8 -1 -3.2 -1.05 L-2.3 -2.4 H1.7 L2.9 -1.05 C3.7 -1 4.3 -0.6 4.3 0.2 V1.5 H3.4 A1 1 0 0 0 1.4 1.5 H-1.4 A1 1 0 0 0 -3.4 1.5 H-4.3 Z M-1.9 -1.95 L-2.5 -1.0 H-0.4 V-1.95 Z M0.1 -1.95 V-1.0 H2.2 L1.4 -1.95 Z"/><circle cx="-2.4" cy="1.6" r="0.8"/><circle cx="2.4" cy="1.6" r="0.8"/></g><g transform="translate(684.60 305.26)" fill="#e8540f"><path d="M-4.3 0 C-4.3 -0.7 -3.8 -1 -3.2 -1.05 L-2.3 -2.4 H1.7 L2.9 -1.05 C3.7 -1 4.3 -0.6 4.3 0.2 V1.5 H3.4 A1 1 0 0 0 1.4 1.5 H-1.4 A1 1 0 0 0 -3.4 1.5 H-4.3 Z M-1.9 -1.95 L-2.5 -1.0 H-0.4 V-1.95 Z M0.1 -1.95 V-1.0 H2.2 L1.4 -1.95 Z"/><circle cx="-2.4" cy="1.6" r="0.8"/><circle cx="2.4" cy="1.6" r="0.8"/></g><g transform="translate(693.60 305.26)" fill="#e8540f"><path d="M-4.3 0 C-4.3 -0.7 -3.8 -1 -3.2 -1.05 L-2.3 -2.4 H1.7 L2.9 -1.05 C3.7 -1 4.3 -0.6 4.3 0.2 V1.5 H3.4 A1 1 0 0 0 1.4 1.5 H-1.4 A1 1 0 0 0 -3.4 1.5 H-4.3 Z M-1.9 -1.95 L-2.5 -1.0 H-0.4 V-1.95 Z M0.1 -1.95 V-1.0 H2.2 L1.4 -1.95 Z"/><circle cx="-2.4" cy="1.6" r="0.8"/><circle cx="2.4" cy="1.6" r="0.8"/></g><g transform="translate(702.60 305.26)" fill="#e8540f"><path d="M-4.3 0 C-4.3 -0.7 -3.8 -1 -3.2 -1.05 L-2.3 -2.4 H1.7 L2.9 -1.05 C3.7 -1 4.3 -0.6 4.3 0.2 V1.5 H3.4 A1 1 0 0 0 1.4 1.5 H-1.4 A1 1 0 0 0 -3.4 1.5 H-4.3 Z M-1.9 -1.95 L-2.5 -1.0 H-0.4 V-1.95 Z M0.1 -1.95 V-1.0 H2.2 L1.4 -1.95 Z"/><circle cx="-2.4" cy="1.6" r="0.8"/><circle cx="2.4" cy="1.6" r="0.8"/></g><g transform="translate(675.60 311.48)" fill="#e8540f"><path d="M-4.3 0 C-4.3 -0.7 -3.8 -1 -3.2 -1.05 L-2.3 -2.4 H1.7 L2.9 -1.05 C3.7 -1 4.3 -0.6 4.3 0.2 V1.5 H3.4 A1 1 0 0 0 1.4 1.5 H-1.4 A1 1 0 0 0 -3.4 1.5 H-4.3 Z M-1.9 -1.95 L-2.5 -1.0 H-0.4 V-1.95 Z M0.1 -1.95 V-1.0 H2.2 L1.4 -1.95 Z"/><circle cx="-2.4" cy="1.6" r="0.8"/><circle cx="2.4" cy="1.6" r="0.8"/></g><g transform="translate(684.60 311.48)" fill="#e8540f"><path d="M-4.3 0 C-4.3 -0.7 -3.8 -1 -3.2 -1.05 L-2.3 -2.4 H1.7 L2.9 -1.05 C3.7 -1 4.3 -0.6 4.3 0.2 V1.5 H3.4 A1 1 0 0 0 1.4 1.5 H-1.4 A1 1 0 0 0 -3.4 1.5 H-4.3 Z M-1.9 -1.95 L-2.5 -1.0 H-0.4 V-1.95 Z M0.1 -1.95 V-1.0 H2.2 L1.4 -1.95 Z"/><circle cx="-2.4" cy="1.6" r="0.8"/><circle cx="2.4" cy="1.6" r="0.8"/></g><g transform="translate(693.60 311.48)" fill="#e8540f"><path d="M-4.3 0 C-4.3 -0.7 -3.8 -1 -3.2 -1.05 L-2.3 -2.4 H1.7 L2.9 -1.05 C3.7 -1 4.3 -0.6 4.3 0.2 V1.5 H3.4 A1 1 0 0 0 1.4 1.5 H-1.4 A1 1 0 0 0 -3.4 1.5 H-4.3 Z M-1.9 -1.95 L-2.5 -1.0 H-0.4 V-1.95 Z M0.1 -1.95 V-1.0 H2.2 L1.4 -1.95 Z"/><circle cx="-2.4" cy="1.6" r="0.8"/><circle cx="2.4" cy="1.6" r="0.8"/></g></svg>
<svg style="left:525px;top:378px" width="60" height="6" viewBox="525 378 60 6"><circle cx="527.5" cy="381" r="1.9" fill="#2b4a9c"/><circle cx="577.7" cy="381" r="1.9" fill="#e8540f"/></svg>
<div style="left:408.40px;top:392.20px;width:352.60px;height:0.00px;background:transparent;border-top:1px dotted #e9e9e9;"></div>
<div style="left:408.40px;top:422.60px;width:352.60px;height:0.00px;background:transparent;border-top:1px dotted #e9e9e9;"></div>
<div style="left:408.40px;top:453.10px;width:352.60px;height:0.00px;background:transparent;border-top:1px dotted #e9e9e9;"></div>
<div style="left:408.40px;top:483.90px;width:352.60px;height:0.00px;background:transparent;border-top:1px dotted #e9e9e9;"></div>
<div style="left:545.70px;top:480.00px;width:37.10px;height:4.40px;background:#2b4a9c;"></div>
<div style="left:582.90px;top:404.40px;width:37.00px;height:80.00px;background:#e8540f;"></div>
<div style="left:552.50px;top:462.30px;width:23.10px;height:16.00px;background:#1f2a54;border-radius:0.8px;"></div>
<div style="left:590.30px;top:407.30px;width:22.40px;height:15.00px;background:#1f2a54;border-radius:0.8px;"></div>
<svg id="tx" style="left:0;top:0" width="772" height="515" viewBox="0 0 772 515">
<text y="26.30" font-size="9.5" fill="#5c5c5c" font-weight="700" x="29.75" textLength="38.50" lengthAdjust="spacingAndGlyphs">BORRAR</text>
<text y="39.20" font-size="9.5" fill="#5c5c5c" font-weight="700" x="30.75" textLength="36.50" lengthAdjust="spacingAndGlyphs">FILTROS</text>
<text y="14.88" font-size="7.9" fill="#fff" font-weight="700" x="127.30" textLength="93.50" lengthAdjust="spacingAndGlyphs">ZONA DE DOSTROBUCIÓN</text>
<text y="14.88" font-size="7.9" fill="#fff" font-weight="700" x="282.40" textLength="84.50" lengthAdjust="spacingAndGlyphs">CANTIDAD DE NEVERAS</text>
<text y="14.88" font-size="7.9" fill="#fff" font-weight="700" x="414.80" textLength="116.30" lengthAdjust="spacingAndGlyphs">CARGA TOTAL CADENA FRIO (KG)</text>
<text y="14.88" font-size="7.9" fill="#fff" font-weight="700" x="599.60" textLength="70.00" lengthAdjust="spacingAndGlyphs">FECHA DE ENTREGA</text>
<text y="29.07" font-size="6.9" fill="#828282" x="120.40" textLength="17.00" lengthAdjust="spacingAndGlyphs">Todas</text>
<text y="29.86" font-size="6.6" fill="#9a9a9a" x="275.60" text-anchor="start">1</text>
<text y="29.86" font-size="6.6" fill="#9a9a9a" x="318.60" text-anchor="start">1</text>
<text y="30.16" font-size="6.6" fill="#8a8a8a" x="416.00" textLength="12.50" lengthAdjust="spacingAndGlyphs">0,01</text>
<text y="30.16" font-size="6.6" fill="#8a8a8a" x="459.20" textLength="12.50" lengthAdjust="spacingAndGlyphs">0,02</text>
<text y="30.86" font-size="6.3" fill="#686868" x="566.50" textLength="33.70" lengthAdjust="spacingAndGlyphs">01/10/2024</text>
<text y="30.86" font-size="6.3" fill="#686868" x="617.20" textLength="34.10" lengthAdjust="spacingAndGlyphs">31/10/2024</text>
<text y="31.50" font-size="14.5" fill="#333" font-family='"DejaVu Sans",sans-serif' x="745.40" text-anchor="middle">❄</text>
<text y="84.20" font-size="17.4" fill="#68aa0d" font-weight="700" x="130.90" textLength="80.40" lengthAdjust="spacingAndGlyphs" stroke-width="0.3" stroke="#68aa0d">Emisiones</text>
<text y="84.20" font-size="17.4" fill="#68aa0d" font-weight="700" x="217.30" textLength="64.70" lengthAdjust="spacingAndGlyphs" stroke-width="0.3" stroke="#68aa0d">Evitadas</text>
<text y="84.20" font-size="17.4" fill="#484848" font-weight="700" x="288.00" textLength="63.70" lengthAdjust="spacingAndGlyphs" stroke-width="0.3" stroke="#484848">Neveras</text>
<text y="84.20" font-size="17.4" fill="#484848" font-weight="700" x="358.00" textLength="98.40" lengthAdjust="spacingAndGlyphs" stroke-width="0.3" stroke="#484848">Reutilizables</text>
<text y="84.20" font-size="17.4" fill="#484848" font-weight="700" x="463.30" textLength="21.10" lengthAdjust="spacingAndGlyphs" stroke-width="0.3" stroke="#484848">vs.</text>
<text y="84.20" font-size="17.4" fill="#484848" font-weight="700" x="490.00" textLength="18.60" lengthAdjust="spacingAndGlyphs" stroke-width="0.3" stroke="#484848">De</text>
<text y="84.20" font-size="17.4" fill="#484848" font-weight="700" x="515.60" textLength="20.10" lengthAdjust="spacingAndGlyphs" stroke-width="0.3" stroke="#484848">Un</text>
<text y="84.20" font-size="17.4" fill="#484848" font-weight="700" x="542.30" textLength="32.00" lengthAdjust="spacingAndGlyphs" stroke-width="0.3" stroke="#484848">Solo</text>
<text y="84.20" font-size="17.4" fill="#484848" font-weight="700" x="580.30" textLength="31.70" lengthAdjust="spacingAndGlyphs" stroke-width="0.3" stroke="#484848">Uso</text>
<text y="118.43" font-size="9.3" fill="#fff" font-weight="700" x="54.30" textLength="37.20" lengthAdjust="spacingAndGlyphs">CLIENTES</text>
<text y="129.00" font-size="7.4" fill="#8c8c8c" x="42.90" textLength="22.00" lengthAdjust="spacingAndGlyphs">Buscar</text>
<text y="139.61" font-size="7.3" fill="#505050" x="45.80" textLength="20.30" lengthAdjust="spacingAndGlyphs">AXON</text>
<text y="152.47" font-size="7.3" fill="#505050" x="45.80" textLength="21.20" lengthAdjust="spacingAndGlyphs">BAYER</text>
<text y="165.33" font-size="7.3" fill="#505050" x="45.80" textLength="27.70" lengthAdjust="spacingAndGlyphs">ELANCO</text>
<text y="178.19" font-size="7.3" fill="#505050" x="45.80" textLength="41.10" lengthAdjust="spacingAndGlyphs">LAFRANCOL</text>
<text y="191.05" font-size="7.3" fill="#505050" x="45.80" textLength="20.80" lengthAdjust="spacingAndGlyphs">NOVO</text>
<text y="203.91" font-size="7.3" fill="#505050" x="45.80" textLength="24.30" lengthAdjust="spacingAndGlyphs">VITALIS</text>
<text y="118.43" font-size="9.3" fill="#fff" font-weight="700" x="144.65" textLength="65.50" lengthAdjust="spacingAndGlyphs">TIPO DE NEVERA</text>
<text y="129.00" font-size="7.4" fill="#8c8c8c" x="134.40" textLength="22.00" lengthAdjust="spacingAndGlyphs">Buscar</text>
<text y="139.61" font-size="7.3" fill="#505050" x="137.80" textLength="78.00" lengthAdjust="spacingAndGlyphs">CREDO CUBE 28 L 96 H</text>
<text y="152.47" font-size="7.3" fill="#505050" x="137.80" textLength="81.20" lengthAdjust="spacingAndGlyphs">THERMOPUR 30 L- 30 H</text>
<text y="165.33" font-size="7.3" fill="#505050" x="137.80" textLength="81.20" lengthAdjust="spacingAndGlyphs">THERMOPUR 30 L- 50 H</text>
<text y="116.50" font-size="4.2" fill="#6e6e6e" x="256.40" textLength="89.60" lengthAdjust="spacingAndGlyphs">Seleccione o arrastre campos para rellenar este</text>
<text y="122.20" font-size="4.2" fill="#6e6e6e" x="256.40" textLength="25.50" lengthAdjust="spacingAndGlyphs">objeto visual.</text>
<text y="136.44" font-size="11" fill="#68aa0d" x="443.10" textLength="61.00" lengthAdjust="spacingAndGlyphs" stroke="#6aa510" stroke-width="0.45">EMISIONES</text>
<text y="152.14" font-size="11" fill="#68aa0d" x="447.10" textLength="53.00" lengthAdjust="spacingAndGlyphs" stroke="#6aa510" stroke-width="0.45">EVITADAS</text>
<text y="188.60" font-size="17" fill="#fff" font-weight="700" x="450.05" textLength="47.50" lengthAdjust="spacingAndGlyphs">49,40</text>
<text y="202.21" font-size="7.3" fill="#fff" font-weight="700" x="458.05" textLength="31.50" lengthAdjust="spacingAndGlyphs">TON CO2</text>
<text y="108.55" font-size="7.4" fill="#fff" font-weight="700" x="569.85" textLength="89.50" lengthAdjust="spacingAndGlyphs">EVITADAS POR COMPRA</text>
<text y="118.05" font-size="7.4" fill="#fff" font-weight="700" x="578.60" textLength="72.00" lengthAdjust="spacingAndGlyphs">Y DISP DE NEVERAS</text>
<text y="174.36" font-size="15.8" fill="#68aa0d" x="596.60" textLength="36.00" lengthAdjust="spacingAndGlyphs" stroke-width="0.3" stroke="#68aa0d">4,39</text>
<text y="191.10" font-size="9.5" fill="#545454" x="594.85" textLength="39.50" lengthAdjust="spacingAndGlyphs" stroke-width="0.2" stroke="#545454">TON CO2</text>
<text y="106.85" font-size="7.4" fill="#fff" font-weight="700" x="690.35" textLength="54.50" lengthAdjust="spacingAndGlyphs">EVITADAS POR</text>
<text y="116.65" font-size="7.4" fill="#fff" font-weight="700" x="681.85" textLength="71.50" lengthAdjust="spacingAndGlyphs">COMPRA Y DISP DE</text>
<text y="126.45" font-size="7.4" fill="#fff" font-weight="700" x="706.10" textLength="23.00" lengthAdjust="spacingAndGlyphs">GELES</text>
<text y="175.26" font-size="15.8" fill="#68aa0d" x="694.35" textLength="46.50" lengthAdjust="spacingAndGlyphs" stroke-width="0.3" stroke="#68aa0d">45,30</text>
<text y="192.20" font-size="9.5" fill="#545454" x="697.85" textLength="39.50" lengthAdjust="spacingAndGlyphs" stroke-width="0.2" stroke="#545454">TON CO2</text>
<text y="248.06" font-size="7.7" fill="#565656" font-weight="700" x="12.80" textLength="65.00" lengthAdjust="spacingAndGlyphs" stroke-width="0.2" stroke="#565656">RESIDUOS QUE SE</text>
<text y="257.76" font-size="7.7" fill="#565656" font-weight="700" x="7.30" textLength="76.00" lengthAdjust="spacingAndGlyphs" stroke-width="0.2" stroke="#565656">DEJAN DE DISPONER</text>
<text y="267.76" font-size="7.7" fill="#565656" font-weight="700" x="29.05" textLength="32.50" lengthAdjust="spacingAndGlyphs" stroke-width="0.2" stroke="#565656">POR USO</text>
<text y="296.40" font-size="16.2" fill="#24409a" x="15.90" textLength="58.80" lengthAdjust="spacingAndGlyphs" stroke-width="0.38" stroke="#24409a">9.170,2</text>
<text y="312.44" font-size="9.6" fill="#545454" x="39.30" textLength="12.00" lengthAdjust="spacingAndGlyphs" stroke-width="0.2" stroke="#545454">KG</text>
<text y="246.47" font-size="4.1" fill="#6e6e6e" x="109.30" textLength="64.80" lengthAdjust="spacingAndGlyphs">Seleccione o arrastre campos para</text>
<text y="252.37" font-size="4.1" fill="#6e6e6e" x="109.30" textLength="49.00" lengthAdjust="spacingAndGlyphs">rellenar este objeto visual.</text>
<text y="253.16" font-size="7.7" fill="#565656" font-weight="700" x="201.90" textLength="72.80" lengthAdjust="spacingAndGlyphs" stroke-width="0.2" stroke="#565656">KG DE GELES QUE SE</text>
<text y="261.96" font-size="7.7" fill="#565656" font-weight="700" x="214.05" textLength="48.50" lengthAdjust="spacingAndGlyphs" stroke-width="0.2" stroke="#565656">DEJARÍAN DE</text>
<text y="271.96" font-size="7.7" fill="#565656" font-weight="700" x="219.55" textLength="37.50" lengthAdjust="spacingAndGlyphs" stroke-width="0.2" stroke="#565656">DISPONER</text>
<text y="298.34" font-size="16.6" fill="#24409a" x="205.90" textLength="64.80" lengthAdjust="spacingAndGlyphs" stroke-width="0.38" stroke="#24409a">7,15 mil</text>
<text y="314.34" font-size="9.6" fill="#545454" x="232.40" textLength="12.00" lengthAdjust="spacingAndGlyphs" stroke-width="0.2" stroke="#545454">KG</text>
<text y="248.06" font-size="7.7" fill="#565656" font-weight="700" x="305.05" textLength="67.50" lengthAdjust="spacingAndGlyphs" stroke-width="0.2" stroke="#565656">NÚMERO DE GELES</text>
<text y="257.96" font-size="7.7" fill="#565656" font-weight="700" x="300.70" textLength="76.20" lengthAdjust="spacingAndGlyphs" stroke-width="0.2" stroke="#565656">QUE SE DEJARÍAN DE</text>
<text y="268.06" font-size="7.7" fill="#565656" font-weight="700" x="320.30" textLength="37.00" lengthAdjust="spacingAndGlyphs" stroke-width="0.2" stroke="#565656">COMPRAR</text>
<text y="296.24" font-size="16.6" fill="#24409a" x="313.65" textLength="50.30" lengthAdjust="spacingAndGlyphs" stroke-width="0.38" stroke="#24409a">14 mil</text>
<text y="312.31" font-size="9.8" fill="#545454" x="325.95" textLength="25.30" lengthAdjust="spacingAndGlyphs" stroke-width="0.2" stroke="#545454">GELES</text>
<text y="336.81" font-size="7" fill="#565656" font-weight="700" x="4.60" textLength="73.80" lengthAdjust="spacingAndGlyphs" stroke-width="0.2" stroke="#565656">EMISIONES TOTALES</text>
<text y="346.61" font-size="7" fill="#565656" font-weight="700" x="5.25" textLength="72.50" lengthAdjust="spacingAndGlyphs" stroke-width="0.2" stroke="#565656">TON CO2 SOLUCIÓN</text>
<text y="356.51" font-size="7" fill="#565656" font-weight="700" x="14.00" textLength="55.00" lengthAdjust="spacingAndGlyphs" stroke-width="0.2" stroke="#565656">REUTILIZABLES</text>
<text y="383.33" font-size="16" fill="#24409a" x="23.90" textLength="35.20" lengthAdjust="spacingAndGlyphs" stroke-width="0.38" stroke="#24409a">2,67</text>
<text y="400.01" font-size="9.8" fill="#545454" x="20.20" textLength="40.00" lengthAdjust="spacingAndGlyphs" stroke-width="0.2" stroke="#545454">TON CO2</text>
<text y="336.81" font-size="7" fill="#565656" font-weight="700" x="101.80" textLength="62.00" lengthAdjust="spacingAndGlyphs" stroke-width="0.2" stroke="#565656">EMISIONES SOLO</text>
<text y="346.61" font-size="7" fill="#565656" font-weight="700" x="95.10" textLength="75.40" lengthAdjust="spacingAndGlyphs" stroke-width="0.2" stroke="#565656">USO NEVERAS &amp; GEL</text>
<text y="380.83" font-size="16" fill="#24409a" x="110.20" textLength="46.00" lengthAdjust="spacingAndGlyphs" stroke-width="0.38" stroke="#24409a">52,06</text>
<text y="397.41" font-size="9.8" fill="#545454" x="114.00" textLength="37.60" lengthAdjust="spacingAndGlyphs" stroke-width="0.2" stroke="#545454">TON C02</text>
<text y="418.89" font-size="9.2" fill="#23357e" x="89.60" textLength="37.80" lengthAdjust="spacingAndGlyphs" stroke-width="0.25" stroke="#23357e">TON CO2</text>
<text y="430.44" font-size="7.1" fill="#363640" x="9.20" textLength="27.60" lengthAdjust="spacingAndGlyphs" stroke-width="0.2" stroke="#363640">CLIENTE</text>
<text y="430.44" font-size="7.1" fill="#363640" x="49.25" textLength="51.70" lengthAdjust="spacingAndGlyphs" stroke-width="0.2" stroke="#363640">REUTILIZABLES</text>
<text y="430.44" font-size="7.1" fill="#363640" x="109.45" textLength="49.30" lengthAdjust="spacingAndGlyphs" stroke-width="0.2" stroke="#363640">UN SOLO USO</text>
<text y="430.44" font-size="7.1" fill="#363640" x="167.75" textLength="33.50" lengthAdjust="spacingAndGlyphs" stroke-width="0.2" stroke="#363640">EVITADAS</text>
<text y="446.31" font-size="8.0" fill="#1d1d1d" font-weight="700" x="0.80" textLength="22.90" lengthAdjust="spacingAndGlyphs" stroke-width="0.2" stroke="#1d1d1d">BAYER</text>
<text y="447.12" font-size="9.4" fill="#2a2a2a" x="85.60" textLength="15.60" lengthAdjust="spacingAndGlyphs" stroke-width="0.15" stroke="#2a2a2a">1,59</text>
<text y="447.12" font-size="9.4" fill="#2a2a2a" x="143.40" textLength="20.20" lengthAdjust="spacingAndGlyphs" stroke-width="0.15" stroke="#2a2a2a">27,25</text>
<text y="447.12" font-size="9.4" fill="#2a2a2a" x="181.60" textLength="20.20" lengthAdjust="spacingAndGlyphs" stroke-width="0.15" stroke="#2a2a2a">25,66</text>
<text y="457.93" font-size="8.0" fill="#1d1d1d" font-weight="700" x="0.80" textLength="21.20" lengthAdjust="spacingAndGlyphs" stroke-width="0.2" stroke="#1d1d1d">AXON</text>
<text y="458.74" font-size="9.4" fill="#2a2a2a" x="85.60" textLength="15.60" lengthAdjust="spacingAndGlyphs" stroke-width="0.15" stroke="#2a2a2a">0,73</text>
<text y="458.74" font-size="9.4" fill="#2a2a2a" x="143.40" textLength="20.20" lengthAdjust="spacingAndGlyphs" stroke-width="0.15" stroke="#2a2a2a">12,20</text>
<text y="458.74" font-size="9.4" fill="#2a2a2a" x="181.60" textLength="20.20" lengthAdjust="spacingAndGlyphs" stroke-width="0.15" stroke="#2a2a2a">11,47</text>
<text y="469.55" font-size="8.0" fill="#1d1d1d" font-weight="700" x="0.80" textLength="44.00" lengthAdjust="spacingAndGlyphs" stroke-width="0.2" stroke="#1d1d1d">LAFRANCOL</text>
<text y="470.36" font-size="9.4" fill="#2a2a2a" x="85.60" textLength="15.60" lengthAdjust="spacingAndGlyphs" stroke-width="0.15" stroke="#2a2a2a">0,32</text>
<text y="470.36" font-size="9.4" fill="#2a2a2a" x="148.00" textLength="15.60" lengthAdjust="spacingAndGlyphs" stroke-width="0.15" stroke="#2a2a2a">7,42</text>
<text y="470.36" font-size="9.4" fill="#2a2a2a" x="186.20" textLength="15.60" lengthAdjust="spacingAndGlyphs" stroke-width="0.15" stroke="#2a2a2a">7,11</text>
<text y="481.17" font-size="8.0" fill="#1d1d1d" font-weight="700" x="0.80" textLength="26.40" lengthAdjust="spacingAndGlyphs" stroke-width="0.2" stroke="#1d1d1d">VITALIS</text>
<text y="481.98" font-size="9.4" fill="#2a2a2a" x="85.60" textLength="15.60" lengthAdjust="spacingAndGlyphs" stroke-width="0.15" stroke="#2a2a2a">0,02</text>
<text y="481.98" font-size="9.4" fill="#2a2a2a" x="148.00" textLength="15.60" lengthAdjust="spacingAndGlyphs" stroke-width="0.15" stroke="#2a2a2a">4,43</text>
<text y="481.98" font-size="9.4" fill="#2a2a2a" x="186.20" textLength="15.60" lengthAdjust="spacingAndGlyphs" stroke-width="0.15" stroke="#2a2a2a">4,41</text>
<text y="492.79" font-size="8.0" fill="#1d1d1d" font-weight="700" x="0.80" textLength="19.20" lengthAdjust="spacingAndGlyphs" stroke-width="0.2" stroke="#1d1d1d">NOVO</text>
<text y="493.60" font-size="9.4" fill="#2a2a2a" x="85.60" textLength="15.60" lengthAdjust="spacingAndGlyphs" stroke-width="0.15" stroke="#2a2a2a">0,00</text>
<text y="493.60" font-size="9.4" fill="#2a2a2a" x="148.00" textLength="15.60" lengthAdjust="spacingAndGlyphs" stroke-width="0.15" stroke="#2a2a2a">0,48</text>
<text y="493.60" font-size="9.4" fill="#2a2a2a" x="186.20" textLength="15.60" lengthAdjust="spacingAndGlyphs" stroke-width="0.15" stroke="#2a2a2a">0,48</text>
<text y="504.41" font-size="8.0" fill="#1d1d1d" font-weight="700" x="0.80" textLength="29.30" lengthAdjust="spacingAndGlyphs" stroke-width="0.2" stroke="#1d1d1d">ELANCO</text>
<text y="505.22" font-size="9.4" fill="#2a2a2a" x="85.60" textLength="15.60" lengthAdjust="spacingAndGlyphs" stroke-width="0.15" stroke="#2a2a2a">0,00</text>
<text y="505.22" font-size="9.4" fill="#2a2a2a" x="148.00" textLength="15.60" lengthAdjust="spacingAndGlyphs" stroke-width="0.15" stroke="#2a2a2a">0,28</text>
<text y="505.22" font-size="9.4" fill="#2a2a2a" x="186.20" textLength="15.60" lengthAdjust="spacingAndGlyphs" stroke-width="0.15" stroke="#2a2a2a">0,28</text>
<text y="265.00" font-size="12" fill="#1b2352" font-weight="700" x="488.20" textLength="66.00" lengthAdjust="spacingAndGlyphs" stroke="#1b2352" stroke-width="0.55">EQUIVALENCIAS</text>
<text y="272.94" font-size="8.5" fill="#6db02a" x="488.20" textLength="66.60" lengthAdjust="spacingAndGlyphs" stroke="#6db02a" stroke-width="0.32">DE EMISIONES</text>
<text y="265.18" font-size="7.2" fill="#1f9a3c" font-weight="700" x="571.20" textLength="10.00" lengthAdjust="spacingAndGlyphs">CO</text>
<text y="265.96" font-size="3.8" fill="#1f9a3c" font-weight="700" x="582.90" text-anchor="middle">2</text>
<text y="270.20" font-size="3.9" fill="#2aa53e" font-weight="700" x="568.80" textLength="18.40" lengthAdjust="spacingAndGlyphs">reduction</text>
<text y="301.29" font-size="17" fill="#68aa0d" x="464.75" textLength="17.50" lengthAdjust="spacingAndGlyphs" stroke-width="0.3" stroke="#68aa0d">31</text>
<text y="315.23" font-size="7.9" fill="#545454" x="445.70" textLength="54.00" lengthAdjust="spacingAndGlyphs" stroke-width="0.15" stroke="#545454">Colombianos al</text>
<text y="325.43" font-size="7.9" fill="#545454" x="466.20" textLength="13.00" lengthAdjust="spacingAndGlyphs" stroke-width="0.15" stroke="#545454">año</text>
<text y="331.93" font-size="6.5" fill="#8e8e8e" x="402.20" textLength="98.00" lengthAdjust="spacingAndGlyphs">Un colombiano promedio genera</text>
<text y="339.89" font-size="6.4" fill="#3a3a3a" font-weight="700" x="402.20" textLength="90.80" lengthAdjust="spacingAndGlyphs">1.6 toneladas de CO2e al año</text>
<text y="301.29" font-size="17" fill="#68aa0d" x="589.45" textLength="25.50" lengthAdjust="spacingAndGlyphs" stroke-width="0.3" stroke="#68aa0d">6,4</text>
<text y="315.23" font-size="7.9" fill="#545454" x="576.80" textLength="51.40" lengthAdjust="spacingAndGlyphs" stroke-width="0.15" stroke="#545454">Hogares al año</text>
<text y="301.29" font-size="17" fill="#68aa0d" x="722.80" textLength="31.00" lengthAdjust="spacingAndGlyphs" stroke-width="0.3" stroke="#68aa0d">11,8</text>
<text y="315.23" font-size="7.9" fill="#545454" x="711.20" textLength="55.60" lengthAdjust="spacingAndGlyphs" stroke-width="0.15" stroke="#545454">Vehiculos al año</text>
<text y="369.68" font-size="8.6" fill="#2e2e2e" x="522.70" textLength="105.00" lengthAdjust="spacingAndGlyphs">Emisiones TON CO2 por mes</text>
<text y="383.75" font-size="7.4" fill="#6a6a6a" x="531.20" textLength="41.40" lengthAdjust="spacingAndGlyphs">Reutilizables</text>
<text y="383.75" font-size="7.4" fill="#6a6a6a" x="581.80" textLength="40.20" lengthAdjust="spacingAndGlyphs">Un Solo uso</text>
<text y="395.05" font-size="6" fill="#7a7a7a" x="406.40" text-anchor="end">60</text>
<text y="425.45" font-size="6" fill="#7a7a7a" x="406.40" text-anchor="end">40</text>
<text y="455.95" font-size="6" fill="#7a7a7a" x="406.40" text-anchor="end">20</text>
<text y="486.75" font-size="6" fill="#7a7a7a" x="406.40" text-anchor="end">0</text>
<text y="1.40" font-size="4.6" fill="#6e6e6e" x="-33.25" textLength="66.50" lengthAdjust="spacingAndGlyphs" transform="translate(391.8 437.8) rotate(-90)">Reutilizables y Un Solo uso</text>
<text y="471.26" font-size="8" fill="#fff" x="564.00" text-anchor="middle" stroke="#fff" stroke-width="0.25">3</text>
<text y="476.61" font-size="4.5" fill="#fff" font-weight="700" x="554.90" textLength="18.20" lengthAdjust="spacingAndGlyphs">TON CO2</text>
<text y="416.06" font-size="8" fill="#fff" x="597.20" textLength="8.60" lengthAdjust="spacingAndGlyphs" stroke="#fff" stroke-width="0.25">52</text>
<text y="421.01" font-size="4.5" fill="#fff" font-weight="700" x="592.40" textLength="18.20" lengthAdjust="spacingAndGlyphs">TON CO2</text>
<text y="493.05" font-size="7.4" fill="#6a6a6a" x="571.25" textLength="26.50" lengthAdjust="spacingAndGlyphs">octubre</text>
<text y="502.42" font-size="4.8" fill="#5a5a5a" x="580.40" textLength="8.20" lengthAdjust="spacingAndGlyphs">Mes</text>
</svg>
</div></body></html>
